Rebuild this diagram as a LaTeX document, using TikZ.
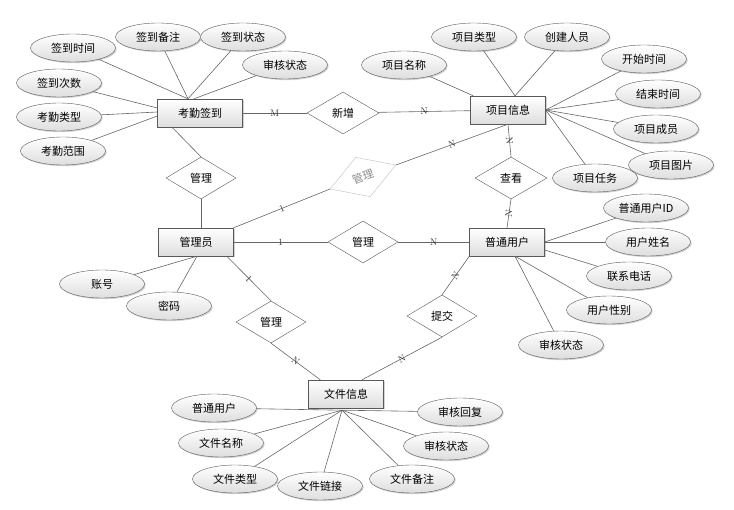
\documentclass[tikz,border=0pt]{standalone}
\usepackage{fontspec}
\newfontfamily\cjk{Noto Sans CJK SC}
\usepackage{tikz}
\usetikzlibrary{shapes.geometric,shadows}

\begin{document}
\begin{tikzpicture}[x=1pt,y=-1pt,
ent/.style={draw=black!65,rectangle,top color=white,bottom color=black!13,drop shadow={opacity=0.35,shadow xshift=1.2pt,shadow yshift=-1.2pt},minimum width=75pt,minimum height=28pt,inner sep=2pt,font=\cjk\fontsize{11}{13}\selectfont},
attr/.style={draw=black!65,ellipse,top color=white,bottom color=black!13,drop shadow={opacity=0.35,shadow xshift=1.2pt,shadow yshift=-1.2pt},minimum width=85pt,minimum height=28pt,inner sep=0pt,font=\cjk\fontsize{11}{13}\selectfont},
rel/.style={draw=black!65,diamond,fill=white,minimum width=72pt,minimum height=42pt,inner sep=0pt,font=\cjk\fontsize{11}{13}\selectfont},
ln/.style={draw=black!60,line width=0.6pt},
card/.style={font=\fontsize{9.5}{9.5}\selectfont,text=black!80,sloped,inner sep=0pt}]
\useasboundingbox (0,0) rectangle (734,510);
\node[ent,minimum width=85pt] (kq) at (200,113) {考勤签到};
\node[ent] (xm) at (508,110) {项目信息};
\node[ent] (gly) at (196,242) {管理员};
\node[ent] (pt) at (507,242) {普通用户};
\node[ent] (wj) at (346,394) {文件信息};
\node[rel] (xz) at (343,113) {新增};
\node[rel,minimum width=70pt] (gl1) at (201,178) {管理};
\node[rel,minimum width=70pt,draw=black!25,text=black!45,rotate=20] (gl2) at (363,177) {管理};
\node[rel] (ck) at (511,178) {查看};
\node[rel,minimum width=70pt] (gl3) at (363,242) {管理};
\node[rel,minimum width=70pt] (gl4) at (271,322) {管理};
\node[rel,minimum width=70pt] (tj) at (442,316) {提交};
\node[attr] (qdsj) at (73,48) {签到时间};
\node[attr] (qdbz) at (158,37) {签到备注};
\node[attr] (qdzt) at (243,37) {签到状态};
\node[attr] (kqsh) at (285,65) {审核状态};
\node[attr] (qdcs) at (59,83) {签到次数};
\node[attr] (kqlx) at (59,117) {考勤类型};
\node[attr] (kqfw) at (63,151) {考勤范围};
\node[attr] (xmmc) at (404,65) {项目名称};
\node[attr] (xmlx) at (474,37) {项目类型};
\node[attr] (cjry) at (567,37) {创建人员};
\node[attr] (kssj) at (644,59) {开始时间};
\node[attr] (jssj) at (658,94) {结束时间};
\node[attr] (xmcy) at (656,129) {项目成员};
\node[attr] (xmtp) at (671,165) {项目图片};
\node[attr] (xmrw) at (595,178) {项目任务};
\node[attr] (yhid) at (646,208) {普通用户ID};
\node[attr] (yhxm) at (648,242) {用户姓名};
\node[attr] (lxdh) at (629,276) {联系电话};
\node[attr] (yhxb) at (609,310) {用户性别};
\node[attr] (yhsh) at (561,345) {审核状态};
\node[attr] (zh) at (102,284) {账号};
\node[attr] (mm) at (169,306) {密码};
\node[attr] (wjyh) at (214,408) {普通用户};
\node[attr] (wjmc) at (221,443) {文件名称};
\node[attr] (wjlx) at (235,479) {文件类型};
\node[attr] (wjlj) at (320,486) {文件链接};
\node[attr] (wjbz) at (412,479) {文件备注};
\node[attr] (wjsh) at (446,446) {审核状态};
\node[attr] (shhf) at (460,412) {审核回复};
\draw[ln] (kq)--node[card]{M} (xz);
\draw[ln] (xz)--node[card]{N} (xm);
\draw[ln] ([xshift=-28pt]kq.south)--(gl1.north);
\draw[ln] (gl1.south)--([xshift=5pt]gly.north);
\draw[ln] (gly.north east)--node[card]{1} (gl2.west);
\draw[ln] (gl2.east)--node[card]{N} (xm.south);
\draw[ln] (xm.south)--node[card]{N} (ck.north);
\draw[ln] (ck.south)--node[card]{N} (pt.north);
\draw[ln] (gly)--node[card]{1} (gl3);
\draw[ln] (gl3)--node[card]{N} (pt);
\draw[ln] ([xshift=-7pt]gly.south east)--node[card]{1} (gl4.north);
\draw[ln] (gl4.south)--node[card]{N} ([xshift=12pt]wj.north west);
\draw[ln] (pt.south west)--node[card]{N} (tj.north);
\draw[ln] (tj.south)--node[card]{N} ([xshift=16pt]wj.north);
\draw[ln] (qdsj)--([xshift=-12pt]kq.north);
\draw[ln] (qdbz)--([xshift=-12pt]kq.north);
\draw[ln] (qdzt)--([xshift=-12pt]kq.north);
\draw[ln] (kqsh)--([xshift=-6pt]kq.north);
\draw[ln] (qdcs)--([yshift=5pt]kq.west);
\draw[ln] (kqlx)--([yshift=1pt]kq.west);
\draw[ln] (kqfw)--([yshift=-3pt]kq.west);
\draw[ln] (xmmc)--([xshift=3pt]xm.north west);
\draw[ln] (xmlx)--([xshift=7pt]xm.north);
\draw[ln] (cjry)--([xshift=7pt]xm.north);
\draw[ln] (kssj)--(xm.east);
\draw[ln] (jssj)--(xm.east);
\draw[ln] (xmcy)--(xm.east);
\draw[ln] (xmtp)--(xm.east);
\draw[ln] (xmrw)--(xm.east);
\draw[ln] (yhid)--(pt.east);
\draw[ln] (yhxm)--(pt.east);
\draw[ln] (lxdh)--([yshift=-8pt]pt.east);
\draw[ln] (yhxb)--([xshift=8pt]pt.south);
\draw[ln] (yhsh)--([xshift=8pt]pt.south);
\draw[ln] (zh)--([xshift=1pt]gly.south);
\draw[ln] (mm)--([xshift=1pt]gly.south);
\draw[ln] (wjyh)--([xshift=-4pt,yshift=-2pt]wj.south);
\draw[ln] (wjmc)--([xshift=-4pt,yshift=-2pt]wj.south);
\draw[ln] (wjlx)--([xshift=-4pt,yshift=-2pt]wj.south);
\draw[ln] (wjlj)--([xshift=-4pt,yshift=-2pt]wj.south);
\draw[ln] (wjbz)--([xshift=-4pt,yshift=-2pt]wj.south);
\draw[ln] (wjsh)--([xshift=-4pt,yshift=-2pt]wj.south);
\draw[ln] (shhf)--([xshift=-4pt,yshift=-2pt]wj.south);
\end{tikzpicture}
\end{document}
